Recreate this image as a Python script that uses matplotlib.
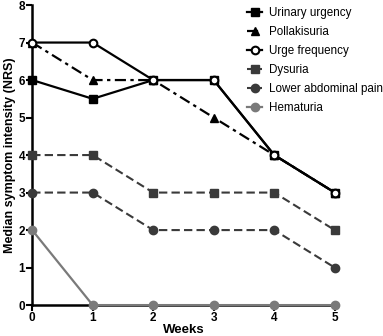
import matplotlib.pyplot as plt

weeks = [0, 1, 2, 3, 4, 5]
urgency = [6, 5.5, 6, 6, 4, 3]
pollakisuria = [7, 6, 6, 5, 4, 3]
urge_freq = [7, 7, 6, 6, 4, 3]
dysuria = [4, 4, 3, 3, 3, 2]
abdominal = [3, 3, 2, 2, 2, 1]
hematuria = [2, 0, 0, 0, 0, 0]

plt.rcParams['font.family'] = ['Liberation Sans', 'DejaVu Sans']

fig = plt.figure(figsize=(3.83, 3.36), dpi=100)
ax = fig.add_axes([0.084, 0.092, 0.79, 0.893])

dk = '#3a3a3a'
gr = '#7a7a7a'
ax.plot(weeks, urgency, '-', color='black', marker='s', ms=6, lw=1.6, label='Urinary urgency', clip_on=False, zorder=5)
ax.plot(weeks, pollakisuria, color='black', ls=(0, (5, 2, 1.5, 2)), marker='^', ms=6, lw=1.6, label='Pollakisuria', clip_on=False, zorder=4)
ax.plot(weeks, urge_freq, '-', color='black', marker='o', ms=5.5, mfc='white', mec='black', mew=1.5, lw=1.6, label='Urge frequency', clip_on=False, zorder=6)
ax.plot(weeks, dysuria, color=dk, ls=(0, (4, 2)), marker='s', ms=6, lw=1.5, label='Dysuria', clip_on=False, zorder=3)
ax.plot(weeks, abdominal, color=dk, ls=(0, (4, 2)), marker='o', ms=6, lw=1.5, label='Lower abdominal pain', clip_on=False, zorder=3)
ax.plot(weeks, hematuria, '-', color=gr, marker='o', ms=6, lw=1.6, label='Hematuria', clip_on=False, zorder=3)

ax.set_xlim(0, 5)
ax.set_ylim(0, 8)
ax.set_xticks(weeks)
ax.set_yticks(range(9))
for s in ['top', 'right']:
    ax.spines[s].set_visible(False)
for s in ['left', 'bottom']:
    ax.spines[s].set_linewidth(1.8)
ax.tick_params(width=1.5, length=4, labelsize=8.5, pad=1)
for t in ax.get_xticklabels() + ax.get_yticklabels():
    t.set_fontweight('bold')
ax.set_xlabel('Weeks', fontsize=9.5, fontweight='bold', labelpad=0)
ax.set_ylabel('Median symptom intensity (NRS)', fontsize=9, fontweight='bold', labelpad=2)

ax.legend(loc='upper left', bbox_to_anchor=(0.695, 1.01), frameon=False, fontsize=8.4,
          handlelength=1.3, handletextpad=0.55, labelspacing=0.6, borderaxespad=0)

fig.savefig('out.png', dpi=100)
